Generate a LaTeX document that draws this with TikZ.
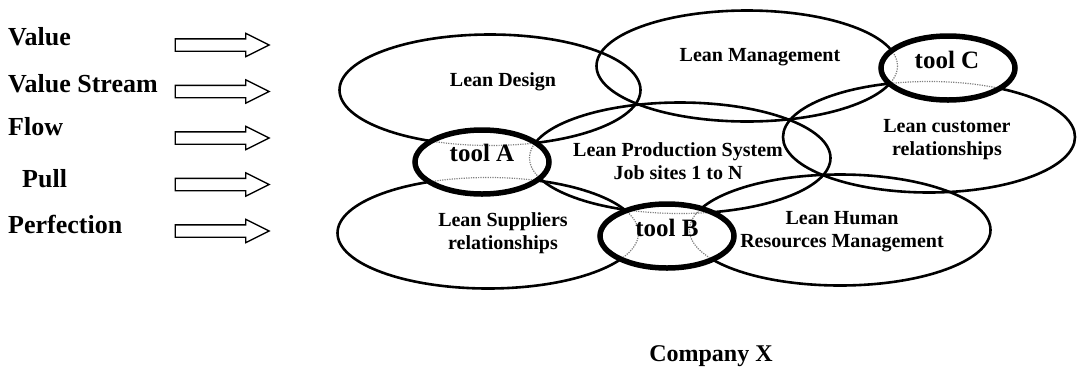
\documentclass[tikz,border=0pt]{standalone}
\usepackage{fontspec}
\setmainfont{Liberation Serif}
\usetikzlibrary{shapes.geometric, shapes.arrows}
\tikzstyle{lean} = [ellipse, draw=black, line width=2.6pt, minimum width=301pt, minimum height=111pt, inner sep=0pt]
\tikzstyle{tool} = [ellipse, draw=black, fill=white, line width=5.5pt, minimum width=134pt, minimum height=64pt, inner sep=0pt]
\tikzstyle{hidden} = [gray, line width=1.2pt, dash pattern=on 1.2pt off 1.2pt]
\tikzstyle{txt} = [font=\fontsize{20}{23}\selectfont\bfseries, align=center, inner sep=0pt]
\tikzstyle{tooltxt} = [font=\fontsize{25}{28}\selectfont\bfseries, inner sep=0pt]
\tikzstyle{principle} = [font=\fontsize{26}{28}\selectfont\bfseries, anchor=base west, inner sep=0pt]
\tikzstyle{blockarrow} = [single arrow, draw=black, line width=1.3pt, minimum height=94pt, inner xsep=0pt, inner ysep=5.5pt, single arrow head extend=5.5pt, single arrow tip angle=53]

\begin{document}
\begin{tikzpicture}[x=1pt, y=-1pt, node distance=46.5pt]
	\useasboundingbox (0,0) rectangle (1077,368);
	
	% lean areas
	\node (design) [lean] at (490,90) {};
	\node (mgmt) [lean] at (747,66) {};
	\node (prod) [lean] at (680,158) {};
	\node (cust) [lean, minimum width=292pt] at (929,137) {};
	\node (supp) [lean] at (488,233) {};
	\node (human) [lean] at (840,230) {};
	
	% tools
	\node (toolA) [tool] at (482,162) {};
	\node (toolB) [tool] at (667,236) {};
	\node (toolC) [tool] at (948,68) {};
	
	\foreach \t in {toolA,toolB,toolC}{
		\begin{scope}
			\clip (\t.center) ellipse [x radius=64, y radius=29];
			\foreach \e in {design,mgmt,prod,supp,human}
				\draw [hidden] (\e.center) ellipse [x radius=150.5, y radius=55.5];
			\draw [hidden] (cust.center) ellipse [x radius=146, y radius=55.5];
		\end{scope}
	}
	
	\node (tDesign) [txt] at (503,82) {Lean Design};
	\node (tMgmt) [txt] at (760,57) {Lean Management};
	\node (tProd) [txt] at (678,161) {Lean Production System\\Job sites 1 to N};
	\node (tCust) [txt] at (947,140) {Lean customer\\relationships};
	\node (tSupp) [txt] at (503,233) {Lean Suppliers\\relationships};
	\node (tHuman) [txt] at (842,232) {Lean Human\\Resources Management};
	
	\node (tA) [tooltxt] at (482,153) {tool A};
	\node (tB) [tooltxt] at (667,228) {tool B};
	\node (tC) [tooltxt] at (947,60) {tool C};
	
	% principles
	\node (value) [principle] at (8,45) {Value};
	\node (stream) [principle] at (8,92) {Value Stream};
	\node (flow) [principle] at (8,135) {Flow};
	\node (pull) [principle] at (22,187) {Pull};
	\node (perf) [principle] at (8,233) {Perfection};
	
	\node (arr1) [blockarrow] at (216,45) {};
	\node (arr2) [blockarrow, below of=arr1] {};
	\node (arr3) [blockarrow, below of=arr2] {};
	\node (arr4) [blockarrow, below of=arr3] {};
	\node (arr5) [blockarrow, below of=arr4] {};
	
	\node (company) [font=\fontsize{24}{28}\selectfont\bfseries, anchor=base, inner sep=0pt] at (711,361) {Company X};
	
\end{tikzpicture}
\end{document}
